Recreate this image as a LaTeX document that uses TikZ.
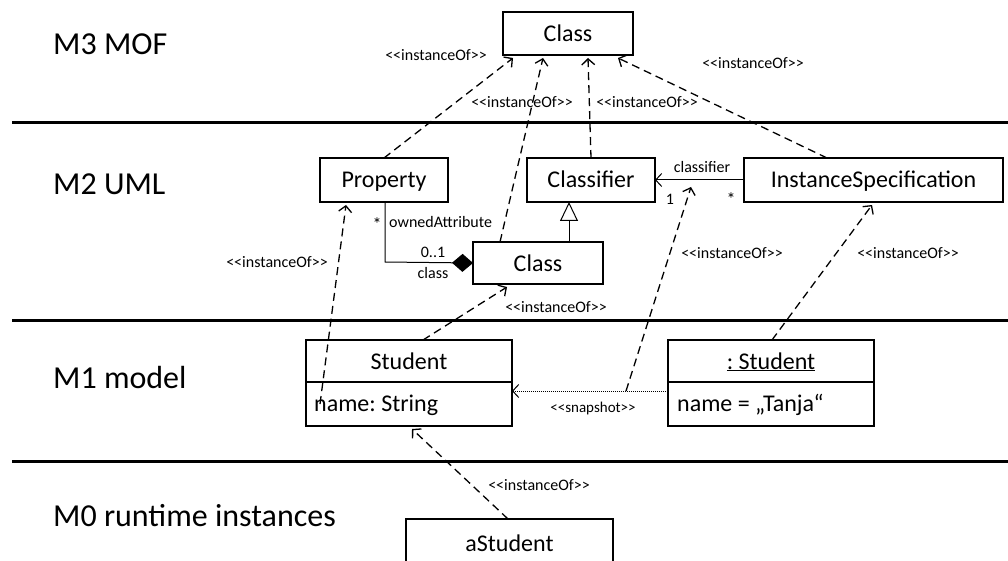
\documentclass[tikz,border=0pt]{standalone}
\usepackage{fontspec}
\setmainfont{Carlito}
\usetikzlibrary{arrows.meta,calc}
\frenchspacing
\newcommand{\stereo}[1]{<{}<#1>{}>}
\begin{document}
\begin{tikzpicture}[x=1pt,y=-1pt,
  box/.style={draw, line width=2pt, inner sep=0pt, outer sep=0pt,
              text height=17pt, text depth=1pt,
              font=\fontsize{24}{28}\selectfont},
  layer/.style={font=\fontsize{32}{36}\selectfont, anchor=base west, inner sep=0pt},
  sepline/.style={line width=3pt},
  tag/.style={font=\fontsize{16}{18}\selectfont, inner sep=0pt},
  attr/.style={font=\fontsize{24}{28}\selectfont, inner sep=0pt, anchor=west},
  instof/.style={line width=1.3pt, dash pattern=on 8pt off 5pt,
                 -{Straight Barb[length=6pt,width=13pt,line width=1.3pt]}},
  assoc/.style={line width=1pt}]
\useasboundingbox (0,0) rectangle (1008,561);

% meta-level separators
\draw[sepline] (12,123) -- (1008,123);
\draw[sepline] (12,320) -- (1008,320);
\draw[sepline] (12,461) -- (1008,461);

% layer captions
\node[layer] (m3) at (53,55) {M3 MOF};
\node[layer] (m2) at (53,195) {M2 UML};
\node[layer] (m1) at (53,388) {M1 model};
\node[layer] (m0) at (53,526) {M0 runtime instances};

% M3
\node[box, minimum width=130, minimum height=43] (c3) at (568,33.5) {Class};

% M2
\node[box, minimum width=128, minimum height=44] (prop) at (384,180) {Property};
\node[box, minimum width=128, minimum height=44] (clf) at (591,180) {Classifier};
\node[box, minimum width=259, minimum height=44] (isp) at (873.5,180) {InstanceSpecification};
\node[box, minimum width=130, minimum height=42] (cls2) at (538,263) {Class};

% M1
\node[box, minimum width=206, minimum height=42] (stuHead) at (409,361) {Student};
\node[box, minimum width=206, minimum height=44, anchor=north] (stuBody) at (stuHead.south) {};
\node[attr] (stuAttr) at ([xshift=8pt,yshift=-1pt]stuBody.west) {name: String};
\node[box, minimum width=206, minimum height=42] (objHead) at (771,361) {\underline{: Student}};
\node[box, minimum width=206, minimum height=44, anchor=north] (objBody) at (objHead.south) {};
\node[attr] (objAttr) at ([xshift=9pt,yshift=-1pt]objBody.west) {name = „Tanja“};

% M0
\begin{scope}
  \clip (0,0) rectangle (1008,561);
  \node[box, minimum width=207, minimum height=48] (aStu) at (509.5,543) {aStudent};
\end{scope}

% generalization Class -> Classifier
\draw[assoc, -{Triangle[open,length=19pt,width=18pt,line width=1pt]}]
  ([xshift=31pt]cls2.north) -- ([xshift=-22pt]clf.south);

% composition Property <>-- Class
\coordinate (bend) at (385,262);
\draw[assoc, -{Diamond[length=21pt,width=18pt]}]
  ([xshift=1pt]prop.south) -- (bend) -- (cls2.west);
\node[tag, font=\fontsize{18}{18}\selectfont] (mulStar) at (377,224) {*};
\node[tag, anchor=west] (ownAttr) at (389,222) {ownedAttribute};
\node[tag] (mul01) at (433,252) {0..1};
\node[tag] (roleCls) at (433,273) {class};

% association InstanceSpecification -> Classifier
\draw[assoc, -{Straight Barb[length=6pt,width=13pt,line width=1pt]}] (isp.west) -- (clf.east);
\node[tag] (roleClf) at (702,167) {classifier};
\node[tag] (mul1) at (670,199) {1};
\node[tag, font=\fontsize{18}{18}\selectfont] (mulStar2) at (731,199) {*};

% instanceOf dependencies M2 -> M3
\draw[instof] (prop.north) -- ([xshift=-55pt,yshift=-3pt]c3.south);
\draw[instof] ([xshift=-38pt]cls2.north) -- ([xshift=-25pt,yshift=-3pt]c3.south);
\draw[instof] (clf.north) -- ([xshift=20pt,yshift=-3pt]c3.south);
\draw[instof] ([xshift=-46.5pt]isp.north) -- ([xshift=50pt,yshift=-3pt]c3.south);
\node[tag] (lab1) at (436,55) {\stereo{instanceOf}};
\node[tag] (lab2) at (522,102) {\stereo{instanceOf}};
\node[tag] (lab3) at (647,102) {\stereo{instanceOf}};
\node[tag] (lab4) at (753,63) {\stereo{instanceOf}};

% instanceOf dependencies M1 -> M2
\draw[instof] ([xshift=14pt]stuBody.west) -- ([xshift=-38pt,yshift=-3pt]prop.south);
\draw[instof] ([xshift=14pt]stuHead.north) -- ([xshift=-31pt,yshift=-3pt]cls2.south);
\draw[instof] ([xshift=1pt]objHead.north) -- ([xshift=-1.5pt,yshift=-3pt]isp.south);
\node[tag] (lab5) at (277,262) {\stereo{instanceOf}};
\node[tag] (lab6) at (556,307) {\stereo{instanceOf}};
\node[tag] (lab7) at (732,253) {\stereo{instanceOf}};
\node[tag] (lab8) at (908,253) {\stereo{instanceOf}};

% snapshot link and its classifier
\draw[line width=1pt, dash pattern=on 1pt off 1pt,
      -{Straight Barb[length=6pt,width=13pt,line width=1pt]}]
  ([yshift=13pt]objBody.west) -- ([yshift=13pt]stuBody.east);
\coordinate (snapMid) at (626,391);
\draw[instof] (snapMid) -- ([xshift=36pt,yshift=-7pt]clf.east);
\node[tag, font=\fontsize{15}{17}\selectfont] (labSnap) at (593,408) {\stereo{snapshot}};

% instanceOf M0 -> M1
\draw[instof] ([xshift=-1.5pt]aStu.north) -- ([xshift=3pt,yshift=-3pt]stuBody.south);
\node[tag] (lab0) at (539,485) {\stereo{instanceOf}};

\end{tikzpicture}
\end{document}
